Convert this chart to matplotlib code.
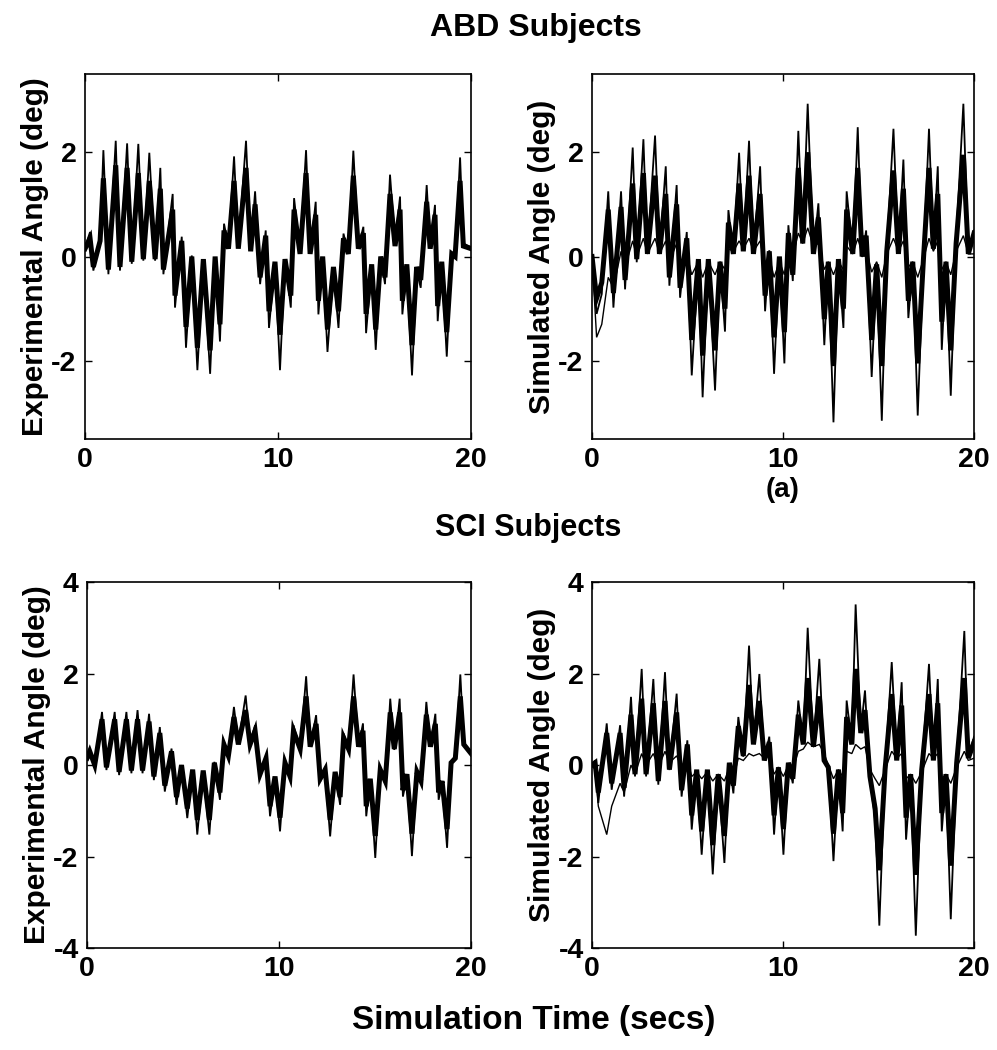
import numpy as np
import matplotlib.pyplot as plt

plt.rcParams['font.family'] = ['Liberation Sans', 'DejaVu Sans']
plt.rcParams['font.weight'] = 'bold'
plt.rcParams['axes.labelweight'] = 'bold'
plt.rcParams['axes.unicode_minus'] = False

# ABD subjects, experimental angle (deg): peak/trough times
abd_exp_t = [0, 0.26, 0.43, 0.78, 0.95, 1.21, 1.59, 1.81, 2.18, 2.42, 2.76, 3.02,
             3.33, 3.63, 3.90, 4.06, 4.54, 4.66, 5.01, 5.23, 5.53, 5.82, 6.13, 6.48,
             6.74, 6.99, 7.20, 7.43, 7.72, 7.94, 8.34, 8.58, 8.81, 9.07, 9.36, 9.53,
             9.84, 10.10, 10.36, 10.66, 10.83, 11.14, 11.45, 11.66, 11.95, 12.09, 12.31, 12.56,
             12.87, 13.13, 13.39, 13.64, 13.90, 14.16, 14.42, 14.56, 14.85, 15.06, 15.32, 15.54,
             15.80, 16.06, 16.32, 16.44, 16.67, 16.94, 17.18, 17.39, 17.70, 17.88, 18.13, 18.27,
             18.48, 18.74, 19.00, 19.17, 19.43, 19.60, 20.0]
abd_exp_peak = [0.18, 0.47, -0.27, 0.31, 2.04, -0.34, 2.22, -0.27, 2.17, -0.14, 2.16, -0.08,
                1.99, -0.08, 1.70, -0.34, 1.20, -0.98, 0.38, -1.75, 0.02, -2.18, -0.08, -2.25,
                -0.01, -1.63, 0.63, 0.18, 1.92, 0.18, 2.22, 0.12, 1.25, -0.53, 0.50, -1.37,
                -0.11, -2.18, -0.05, -0.98, 1.12, 0.05, 2.04, 0.05, 1.05, -1.11, -0.01, -1.83,
                -0.27, -1.37, 0.44, 0.05, 2.03, 0.18, 0.57, -1.47, -0.17, -1.79, -0.01, -0.53,
                1.57, 0.25, 1.15, -1.11, -0.21, -2.28, -0.27, -0.60, 1.37, 0.18, 0.99, -1.24,
                -0.11, -1.92, 0.08, -0.01, 1.90, 0.25, 0.18]
abd_exp_body = [0.15, 0.35, -0.20, 0.30, 1.50, -0.25, 1.75, -0.20, 1.70, -0.10, 1.60, -0.05,
                1.45, -0.05, 1.30, -0.25, 0.90, -0.75, 0.30, -1.35, 0.00, -1.75, -0.05, -1.80,
                0.00, -1.30, 0.50, 0.15, 1.45, 0.15, 1.70, 0.10, 1.00, -0.40, 0.40, -1.05,
                -0.10, -1.50, -0.05, -0.75, 0.90, 0.05, 1.60, 0.05, 0.80, -0.85, 0.00, -1.40,
                -0.20, -1.05, 0.35, 0.05, 1.55, 0.15, 0.45, -1.10, -0.15, -1.40, 0.00, -0.40,
                1.20, 0.20, 0.90, -0.85, -0.15, -1.70, -0.20, -0.45, 1.05, 0.15, 0.80, -0.95,
                -0.10, -1.45, 0.05, 0.00, 1.45, 0.20, 0.15]

# ABD subjects, simulated angle (deg)
abd_sim_t = [0, 0.24, 0.51, 0.85, 1.12, 1.52, 1.73, 2.13, 2.34, 2.69, 2.90, 3.30,
             3.53, 3.86, 4.05, 4.43, 4.61, 4.96, 5.22, 5.57, 5.79, 6.09, 6.44, 6.70,
             6.96, 7.14, 7.40, 7.70, 7.92, 8.22, 8.45, 8.80, 9.06, 9.28, 9.53, 9.81,
             10.07, 10.28, 10.51, 10.80, 11.03, 11.29, 11.59, 11.85, 12.16, 12.37, 12.64, 12.90,
             13.16, 13.33, 13.65, 13.91, 14.14, 14.35, 14.64, 14.90, 15.17, 15.43, 15.78, 16.04,
             16.30, 16.56, 16.79, 17.05, 17.35, 17.64, 17.87, 18.10, 18.31, 18.53, 18.78, 19.06,
             19.44, 19.70, 20.0]
abd_sim_peak = [0.00, -1.10, -0.72, 1.25, -0.98, 1.25, -0.63, 2.09, -0.11, 2.25, 0.05, 2.32,
                0.05, 1.73, -0.56, 1.37, -0.79, 0.47, -2.28, -0.08, -2.70, -0.05, -2.57, -0.11,
                -1.44, 0.89, 0.05, 1.99, 0.12, 2.22, 0.05, 1.73, -1.05, 0.12, -2.25, -0.01,
                -2.05, 0.60, -0.47, 2.41, 0.31, 2.93, 0.05, 1.02, -1.70, -0.14, -3.18, -0.08,
                -1.37, 1.25, 0.05, 2.48, -0.01, 0.50, -2.31, -0.21, -3.15, 0.12, 2.45, 0.05,
                1.86, -1.18, -0.14, -3.05, -0.08, 2.45, 0.18, 1.73, -1.79, -0.14, -2.67, 0.31,
                2.93, 0.05, 0.50]
abd_sim_body = [0.00, -0.80, -0.50, 0.90, -0.70, 0.95, -0.45, 1.40, -0.05, 1.60, 0.05, 1.55,
                0.05, 1.20, -0.40, 1.00, -0.60, 0.35, -1.60, -0.05, -1.90, -0.05, -1.80, -0.10,
                -1.00, 0.65, 0.05, 1.40, 0.10, 1.55, 0.05, 1.20, -0.75, 0.10, -1.55, 0.00,
                -1.45, 0.45, -0.35, 1.70, 0.25, 2.00, 0.05, 0.75, -1.20, -0.10, -2.10, -0.05,
                -1.00, 0.90, 0.05, 1.70, 0.00, 0.40, -1.60, -0.15, -2.10, 0.10, 1.65, 0.05,
                1.30, -0.85, -0.10, -2.05, -0.05, 1.70, 0.15, 1.20, -1.25, -0.10, -1.80, 0.25,
                1.95, 0.05, 0.45]
abd_sim_base = [0.00, -1.55, -1.30, -0.40, -0.60, 0.10, -0.20, 0.30, 0.00, 0.35, 0.05, 0.35,
                0.05, 0.30, -0.10, 0.25, -0.15, 0.05, -0.35, -0.10, -0.40, -0.10, -0.35, -0.10,
                -0.25, 0.15, 0.10, 0.30, 0.15, 0.35, 0.10, 0.30, -0.20, 0.00, -0.40, -0.10,
                -0.35, 0.15, 0.00, 0.45, 0.25, 0.55, 0.20, 0.25, -0.25, -0.10, -0.35, -0.10,
                -0.25, 0.20, 0.05, 0.35, 0.05, 0.15, -0.30, -0.10, -0.40, 0.05, 0.35, 0.10,
                0.30, -0.20, -0.10, -0.40, -0.05, 0.35, 0.10, 0.30, -0.25, -0.10, -0.35, 0.10,
                0.40, 0.05, 0.05]

# SCI subjects, experimental angle (deg)
sci_exp_t = [0, 0.14, 0.40, 0.78, 1.01, 1.44, 1.67, 2.05, 2.31, 2.63, 2.89, 3.23,
             3.48, 3.79, 4.05, 4.40, 4.66, 4.92, 5.22, 5.50, 5.74, 6.05, 6.37, 6.63,
             6.92, 7.13, 7.36, 7.65, 7.88, 8.26, 8.49, 8.75, 9.01, 9.32, 9.53, 9.79,
             10.05, 10.31, 10.57, 10.75, 11.10, 11.41, 11.62, 11.93, 12.14, 12.40, 12.66, 12.92,
             13.18, 13.36, 13.62, 13.88, 14.14, 14.37, 14.54, 14.75, 15.01, 15.27, 15.53, 15.79,
             16.00, 16.28, 16.45, 16.66, 16.92, 17.18, 17.39, 17.67, 17.88, 18.14, 18.31, 18.49,
             18.75, 18.96, 19.18, 19.44, 19.62, 20.0]
sci_exp_peak = [0.18, 0.36, -0.04, 1.16, -0.11, 1.16, -0.22, 1.16, -0.18, 1.20, -0.18, 1.12,
                -0.33, 0.83, -0.58, 0.36, -0.87, 0.00, -1.16, -0.11, -1.52, -0.14, -1.52, 0.07,
                -0.76, 0.51, 0.18, 1.27, 0.47, 1.52, 0.47, 0.87, -0.25, 0.18, -1.12, -0.29,
                -1.45, 0.04, -0.29, 0.87, 0.33, 1.94, 0.40, 1.09, -0.36, -0.14, -1.56, -0.18,
                -0.87, 0.69, 0.33, 1.98, 0.40, 0.91, -1.12, -0.33, -2.03, -0.11, -0.40, 1.45,
                0.33, 1.45, -0.69, -0.25, -1.99, -0.18, -0.40, 1.38, 0.40, 1.12, -0.76, -0.40,
                -1.81, 0.04, 0.11, 1.98, 0.47, 0.29]
sci_exp_body = [0.15, 0.30, 0.00, 1.00, -0.05, 1.00, -0.15, 1.00, -0.12, 1.00, -0.12, 0.95,
                -0.25, 0.70, -0.45, 0.30, -0.70, 0.00, -0.95, -0.10, -1.20, -0.12, -1.20, 0.05,
                -0.60, 0.45, 0.20, 1.05, 0.45, 1.20, 0.45, 0.75, -0.20, 0.15, -0.90, -0.25,
                -1.15, 0.05, -0.25, 0.75, 0.35, 1.50, 0.40, 0.90, -0.30, -0.10, -1.20, -0.15,
                -0.70, 0.60, 0.35, 1.50, 0.40, 0.75, -0.90, -0.30, -1.55, -0.10, -0.35, 1.15,
                0.35, 1.15, -0.55, -0.20, -1.50, -0.15, -0.35, 1.10, 0.40, 0.90, -0.60, -0.35,
                -1.40, 0.05, 0.15, 1.50, 0.45, 0.25]

# SCI subjects, simulated angle (deg)
sci_sim_t = [0, 0.16, 0.33, 0.77, 1.03, 1.47, 1.68, 2.04, 2.25, 2.60, 2.83, 3.21,
             3.47, 3.82, 4.05, 4.43, 4.69, 4.99, 5.22, 5.48, 5.74, 6.04, 6.32, 6.61,
             6.93, 7.19, 7.40, 7.66, 7.92, 8.22, 8.45, 8.76, 9.02, 9.28, 9.53, 9.76,
             10.02, 10.28, 10.51, 10.80, 11.06, 11.29, 11.59, 11.90, 12.15, 12.37, 12.64, 12.90,
             13.12, 13.33, 13.60, 13.80, 14.07, 14.29, 14.55, 14.82, 15.04, 15.34, 15.69, 15.95,
             16.21, 16.44, 16.68, 16.95, 17.26, 17.64, 17.87, 18.10, 18.31, 18.53, 18.78, 19.09,
             19.49, 19.70, 20.0]
sci_sim_peak = [0.00, 0.10, -0.83, 0.91, -0.54, 0.87, -0.69, 1.49, -0.25, 2.10, -0.25, 1.88,
                -0.43, 2.03, -0.11, 1.56, -0.69, 0.54, -1.41, -0.11, -1.96, -0.11, -2.39, -0.25,
                -2.14, 0.04, -0.62, 1.05, 0.18, 2.61, 0.47, 1.99, 0.11, 0.62, -1.52, -0.04,
                -1.96, 0.04, -0.40, 1.41, 0.47, 3.00, 0.40, 2.32, 0.11, -0.04, -2.10, -0.11,
                -1.45, 1.41, 0.47, 3.51, 0.76, 1.63, -0.30, -1.20, -3.51, -0.11, 2.25, 0.11,
                1.81, -1.63, -0.25, -3.73, -0.11, 2.21, 0.11, 1.88, -1.45, -0.25, -3.37, 0.04,
                2.93, 0.18, 0.62]
sci_sim_body = [0.00, 0.05, -0.60, 0.70, -0.40, 0.70, -0.50, 1.10, -0.20, 1.45, -0.20, 1.35,
                -0.35, 1.40, -0.10, 1.15, -0.55, 0.45, -1.10, -0.10, -1.45, -0.10, -1.75, -0.20,
                -1.55, 0.05, -0.45, 0.85, 0.20, 1.75, 0.45, 1.40, 0.10, 0.50, -1.10, -0.05,
                -1.40, 0.05, -0.30, 1.10, 0.45, 1.90, 0.40, 1.50, 0.10, -0.05, -1.50, -0.10,
                -1.05, 1.05, 0.45, 2.10, 0.70, 1.20, -0.25, -0.95, -2.30, -0.10, 1.55, 0.10,
                1.30, -1.15, -0.20, -2.40, -0.10, 1.55, 0.10, 1.35, -1.05, -0.20, -2.20, 0.05,
                1.90, 0.15, 0.50]
sci_sim_base = [0.00, -0.10, -0.90, -1.52, -0.90, -0.40, -0.60, 0.00, -0.20, 0.25, 0.00, 0.25,
                -0.05, 0.30, 0.05, 0.20, -0.05, 0.10, -0.25, -0.15, -0.30, -0.15, -0.35, -0.20,
                -0.35, -0.05, -0.30, 0.15, 0.10, 0.25, 0.20, 0.25, 0.15, 0.20, -0.20, -0.05,
                -0.25, 0.00, -0.10, 0.30, 0.35, 0.50, 0.40, 0.45, 0.25, 0.00, -0.30, -0.10,
                -0.25, 0.30, 0.25, 0.45, 0.35, 0.40, -0.10, -0.30, -0.45, -0.10, 0.30, 0.15,
                0.25, -0.30, -0.20, -0.40, -0.15, 0.25, 0.15, 0.25, -0.30, -0.20, -0.40, -0.05,
                0.30, 0.10, 0.15]

panels = [
    # (rect in figure fraction, t, traces, ylim, yticks, ylabel)
    ([0.0853, 0.5819, 0.3872, 0.3476], abd_exp_t, [abd_exp_peak, abd_exp_body], 3.5, [-2, 0, 2],
     'Experimental Angle (deg)'),
    ([0.5938, 0.5819, 0.3832, 0.3476], abd_sim_t, [abd_sim_peak, abd_sim_body, abd_sim_base], 3.5, [-2, 0, 2],
     'Simulated Angle (deg)'),
    ([0.0873, 0.0971, 0.3852, 0.3486], sci_exp_t, [sci_exp_peak, sci_exp_body], 4, [-4, -2, 0, 2, 4],
     'Experimental Angle (deg)'),
    ([0.5938, 0.0971, 0.3832, 0.3486], sci_sim_t, [sci_sim_peak, sci_sim_body, sci_sim_base], 4, [-4, -2, 0, 2, 4],
     'Simulated Angle (deg)'),
]

fig = plt.figure(figsize=(9.97, 10.5), dpi=100)

for rect, t, traces, ylim, yticks, ylabel in panels:
    ax = fig.add_axes(rect)
    widths = [1.3, 3.6, 1.0]
    for y, lw in zip(traces, widths):
        ax.plot(t, y, color='black', lw=lw, solid_joinstyle='miter')
    ax.set_xlim(0, 20)
    ax.set_ylim(-ylim, ylim)
    ax.set_xticks([0, 10, 20])
    ax.set_yticks(yticks)
    ax.tick_params(direction='in', top=True, right=True, length=5, width=1.0,
                   labelsize=20.5, pad=6)
    for side in ax.spines.values():
        side.set_linewidth(1.2)
    ax.set_ylabel(ylabel, fontsize=21.5, labelpad=2)

fig.text(0.537, 0.973, 'ABD Subjects', ha='center', va='center', fontsize=23, fontweight='bold')
fig.text(0.785, 0.533, '(a)', ha='center', va='center', fontsize=20, fontweight='bold')
fig.text(0.530, 0.497, 'SCI Subjects', ha='center', va='center', fontsize=22, fontweight='bold')
fig.text(0.535, 0.028, 'Simulation Time (secs)', ha='center', va='center', fontsize=24,
         fontweight='bold')

fig.savefig('out.png', dpi=100)
